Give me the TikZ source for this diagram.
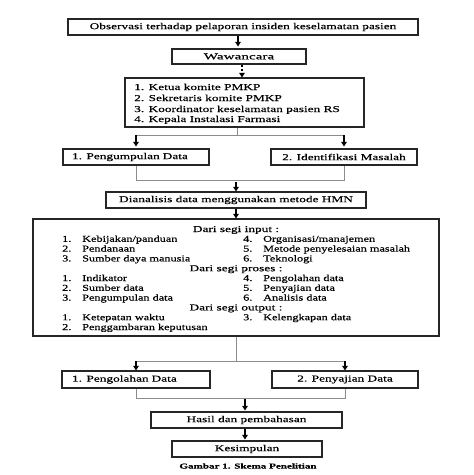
\documentclass[tikz,border=0pt]{standalone}
\usepackage{fontspec}
\setmainfont[FakeStretch=1.48,FakeBold=0.5]{Liberation Serif}
\newfontfamily\itemfont[FakeStretch=1.36,FakeBold=0.5]{Liberation Serif}
\newfontfamily\wawfont[FakeStretch=1.69,FakeBold=0.5]{Liberation Serif}
\usetikzlibrary{arrows.meta}
\tikzset{
  box/.style={draw=black!85, line width=1.1pt, inner sep=0pt, font=\fontsize{9}{10}\selectfont},
  lbox/.style={box, text width=128pt, align=left},
  conn/.style={draw=black!45, line width=0.8pt},
  arr/.style={draw=black, line width=1.2pt, -{Triangle[length=4.5pt,width=5.5pt]}},
  dasharr/.style={arr, dash pattern=on 2.5pt off 1.5pt},
  txt/.style={inner sep=0pt, anchor=base west, font=\fontsize{9}{10}\selectfont},
  itm/.style={inner sep=0pt, anchor=base west, font=\fontsize{9}{10}\itemfont},
  head/.style={inner sep=0pt, anchor=base, font=\fontsize{9}{10}\selectfont},
}
\begin{document}
\begin{tikzpicture}[x=1pt,y=-1pt]
\useasboundingbox (0,0) rectangle (474,475);

% top part
\node[box, minimum width=350pt, minimum height=16pt] (obs) at (243,27) {Observasi terhadap pelaporan insiden keselamatan pasien};
\node[box, minimum width=134pt, minimum height=15pt, font=\fontsize{9}{10}\wawfont] (waw) at (239,56.5) {Wawancara};
\node[box, minimum width=239pt, minimum height=49pt] (list) at (244.5,102.5) {};
\node[txt] (l1) at (134,90) {1. Ketua komite PMKP};
\node[txt] (l2) at (134,101) {2. Sekretaris komite PMKP};
\node[txt] (l3) at (134,112) {3. Koordinator keselamatan pasien RS};
\node[txt] (l4) at (134,122) {4. Kepala Instalasi Farmasi};

\draw[arr, shorten >=2pt] ([xshift=-5pt]obs.south) -- ([xshift=-5pt]obs.south |- waw.north);
\draw[dasharr] ([xshift=3pt]waw.south) -- ([xshift=3pt]waw.south |- list.north);

% first split
\node[lbox, minimum width=146pt, minimum height=16pt, inner xsep=9pt] (peng) at (136,157) {1. Pengumpulan Data};
\node[box, minimum width=146pt, minimum height=16pt] (iden) at (344,157) {2. Identifikasi Masalah};
\coordinate (j1) at (237,135);
\draw[conn] (list.south -| j1) -- (j1);
\draw[conn] (peng.north |- j1) -- (iden.north |- j1);
\draw[arr, shorten >=2pt] (peng.north |- j1) -- (peng.north);
\draw[arr, shorten >=2pt] (iden.north |- j1) -- (iden.north);

\node[box, minimum width=260pt, minimum height=16pt] (dian) at (236,200) {Dianalisis data menggunakan metode HMN};
\coordinate (j2) at (236,180);
\draw[conn] (peng.south) -- (peng.south |- j2) -- (iden.south |- j2) -- (iden.south);
\draw[arr] ([yshift=-2pt]j2) -- (dian.north);

% big box
\node[box, minimum width=406pt, minimum height=117pt] (big) at (236,277.5) {};
\draw[arr] (dian.south) -- (big.north);

\node[head] (h1) at (236,232) {Dari segi input :};
\node[itm] (a1n) at (62,241.8) {1.};   \node[itm] (a1) at (82,241.8) {Kebijakan/panduan};
\node[itm] (a2n) at (62,251.6) {2.};   \node[itm] (a2) at (82,251.6) {Pendanaan};
\node[itm] (a3n) at (62,261.4) {3.};   \node[itm] (a3) at (82,261.4) {Sumber daya manusia};
\node[itm] (a4n) at (243,241.8) {4.};  \node[itm] (a4) at (263,241.8) {Organisasi/manajemen};
\node[itm] (a5n) at (243,251.6) {5.};  \node[itm] (a5) at (263,251.6) {Metode penyelesaian masalah};
\node[itm] (a6n) at (243,261.4) {6.};  \node[itm] (a6) at (263,261.4) {Teknologi};

\node[head] (h2) at (236,271.2) {Dari segi proses :};
\node[itm] (b1n) at (62,281) {1.};     \node[itm] (b1) at (82,281) {Indikator};
\node[itm] (b2n) at (62,290.8) {2.};   \node[itm] (b2) at (82,290.8) {Sumber data};
\node[itm] (b3n) at (62,300.6) {3.};   \node[itm] (b3) at (82,300.6) {Pengumpulan data};
\node[itm] (b4n) at (243,281) {4.};    \node[itm] (b4) at (263,281) {Pengolahan data};
\node[itm] (b5n) at (243,290.8) {5.};  \node[itm] (b5) at (263,290.8) {Penyajian data};
\node[itm] (b6n) at (243,300.6) {6.};  \node[itm] (b6) at (263,300.6) {Analisis data};

\node[head] (h3) at (236,310.4) {Dari segi output :};
\node[itm] (c1n) at (62,320.2) {1.};   \node[itm] (c1) at (82,320.2) {Ketepatan waktu};
\node[itm] (c2n) at (62,330) {2.};     \node[itm] (c2) at (82,330) {Penggambaran keputusan};
\node[itm] (c3n) at (243,320.2) {3.};  \node[itm] (c3) at (263,320.2) {Kelengkapan data};

% second split
\node[lbox, minimum width=146pt, minimum height=17pt, inner xsep=10pt] (pengo) at (136,379.5) {1. Pengolahan Data};
\node[box, minimum width=146pt, minimum height=17pt] (peny) at (345,379.5) {2. Penyajian Data};
\coordinate (j3) at (236,361);
\draw[conn] (big.south) -- (j3);
\draw[conn] (pengo.north |- j3) -- (peny.north |- j3);
\draw[arr] (pengo.north |- j3) -- (pengo.north);
\draw[arr] (peny.north |- j3) -- (peny.north);

\node[box, minimum width=191pt, minimum height=16pt] (hasil) at (246.5,420) {Hasil dan pembahasan};
\coordinate (j4) at (245,398);
\draw[conn] (pengo.south) -- (pengo.south |- j4) -- (peny.south |- j4) -- (peny.south);
\draw[arr, shorten >=1pt] ([yshift=-1pt]j4) -- (j4 |- hasil.north);

\node[box, minimum width=150pt, minimum height=16pt] (kes) at (247,449) {Kesimpulan};
\draw[arr, shorten >=1pt] ([xshift=-1.5pt]hasil.south) -- ([xshift=-1.5pt]hasil.south |- kes.north);

\node[inner sep=0pt, font=\fontsize{7.5}{8}\bfseries] (cap) at (248,466) {Gambar 1. Skema Penelitian};
\end{tikzpicture}
\end{document}
